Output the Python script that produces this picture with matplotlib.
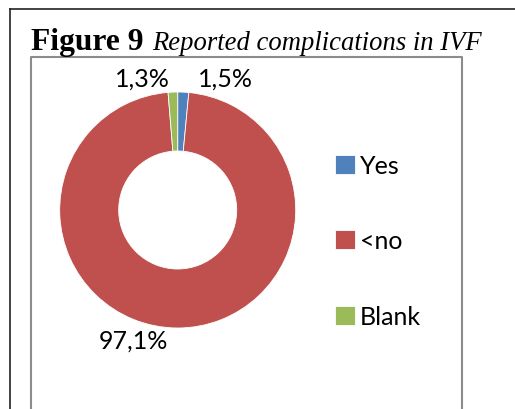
import matplotlib.pyplot as plt

# data
categories = ['Yes', '<no', 'Blank']
shares = [1.5, 97.1, 1.3]
label_text = ['1,5%', '97,1%', '1,3%']
colors = ['#4F81BD', '#C0504D', '#9BBB59']

W, H = 515, 410
fig = plt.figure(figsize=(W / 100, H / 100), dpi=100)
ax = fig.add_axes([0, 0, 1, 1])


def Y(y):
    # top-down pixel coordinate -> axes data
    return H - y


lab_font = 'Lato'

# outer page frame + chart frame
ax.plot([10, W], [Y(10), Y(10)], color='#222222', lw=1.2)
ax.plot([10, 10], [Y(10), 0], color='#222222', lw=1.2)
ax.plot([30.5, 30.5, 462, 462], [0, Y(58), Y(58), 0], color='#8c8c8c', lw=1.5)

# title
ax.text(31, Y(50), 'Figure 9', fontsize=22.7, fontweight='bold',
        family='Liberation Serif', ha='left', va='baseline')
ax.text(152, Y(50), 'Reported complications in IVF', fontsize=19.2,
        style='italic', family='Liberation Serif', ha='left', va='baseline')

# doughnut
wedges, _ = ax.pie(shares, colors=colors, startangle=90, counterclock=False,
                   radius=118, center=(177.7, Y(211)),
                   wedgeprops=dict(width=59, edgecolor='white', linewidth=0.6),
                   frame=True)
ax.set_xlim(0, W)
ax.set_ylim(0, H)
ax.axis('off')

# data labels
label_pos = [(225.5, 79.5), (133.5, 341.5), (142.5, 79.5)]
for txt, (x, y) in zip(label_text, label_pos):
    ax.text(x, Y(y), txt, fontsize=18, family=lab_font,
            ha='center', va='center')

ax.legend(wedges, categories, loc='upper left',
          bbox_to_anchor=(335, Y(155)), bbox_transform=ax.transData,
          frameon=False, prop=dict(family=lab_font, size=18),
          handlelength=0.8, handleheight=0.8, handletextpad=0.2,
          labelspacing=2.1, borderpad=0, borderaxespad=0)

fig.savefig('out.png', dpi=100)
